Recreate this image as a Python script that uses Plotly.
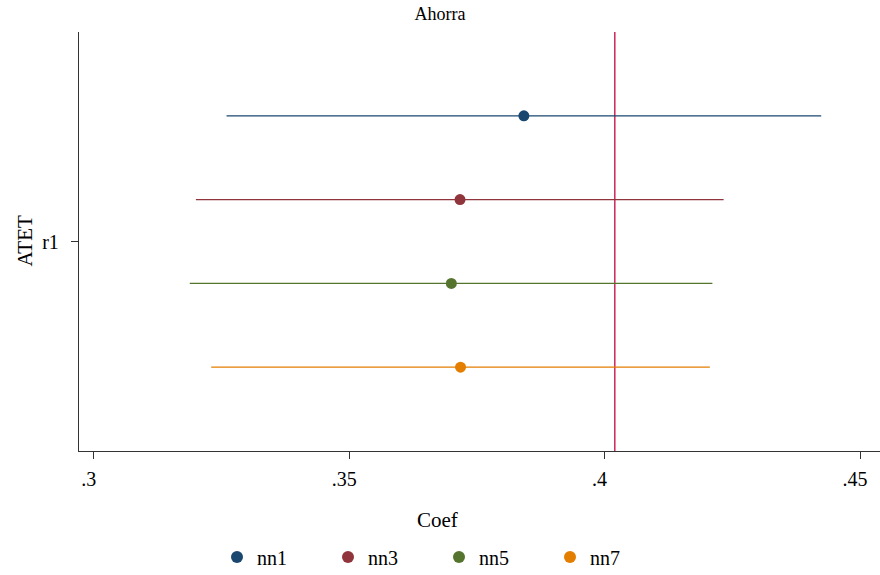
import plotly.graph_objects as go

models = ["nn1", "nn3", "nn5", "nn7"]
coef = [0.3842, 0.3717, 0.3700, 0.3718]
ci_lo = [0.3260, 0.3200, 0.3188, 0.3230]
ci_hi = [0.4424, 0.4233, 0.4211, 0.4206]
colors = ["#1a476f", "#90353b", "#55752f", "#e37e00"]
ref_value = 0.4020
x_tickvals = [0.30, 0.35, 0.40, 0.45]
x_ticktext = [".3", ".35", ".4", ".45"]
y_label = "r1"

FONT = "Liberation Serif, Times New Roman, serif"

# plot-area geometry (pixels)
L, R, T, B = 79, 0, 32, 124
PW, PH = 880 - L - R, 575 - T - B

fig = go.Figure()
n = len(models)
for i, m in enumerate(models):
    ypos = (n - 1) / 2 - i
    fig.add_trace(go.Scatter(
        x=[coef[i]], y=[ypos], mode="markers", name=m,
        marker=dict(color=colors[i], size=11, line=dict(width=0)),
        error_x=dict(type="data", symmetric=False,
                     array=[ci_hi[i] - coef[i]], arrayminus=[coef[i] - ci_lo[i]],
                     width=0, thickness=1.2, color=colors[i]),
    ))

fig.add_vline(x=ref_value, line=dict(color="#c8184a", width=1.4), layer="below")

fig.update_layout(
    width=880, height=575,
    margin=dict(l=L, r=R, t=T, b=B, autoexpand=False),
    paper_bgcolor="white", plot_bgcolor="white",
    font=dict(family=FONT, size=19, color="black"),
    title=dict(text="Ahorra", x=0.5, xref="container", xanchor="center",
               y=1, yref="container", yanchor="top", pad=dict(t=7),
               font=dict(family=FONT, size=18, color="black")),
    showlegend=True,
    legend=dict(orientation="h", x=(217 - L) / PW, xanchor="left",
                y=-(557 - (575 - B)) / PH, yanchor="middle",
                entrywidth=66, entrywidthmode="pixels",
                font=dict(family=FONT, size=20, color="black"),
                itemsizing="constant", traceorder="normal"),
    xaxis=dict(range=[0.29712, 0.45391], tickvals=x_tickvals, ticktext=x_ticktext,
               showgrid=False, zeroline=False, showline=True, linecolor="#333",
               linewidth=1.3, ticks="outside", ticklen=7, tickcolor="#333",
               automargin=False, ticklabelstandoff=3, ticklabelshift=-5,
               tickfont=dict(family=FONT, size=20, color="black")),
    yaxis=dict(range=[-2.5, 2.5], tickvals=[0], ticktext=[y_label],
               showgrid=False, zeroline=False, showline=True, linecolor="#333",
               linewidth=1.3, ticks="outside", ticklen=7, tickcolor="#333",
               automargin=False, ticklabelstandoff=8,
               tickfont=dict(family=FONT, size=20, color="black")),
    annotations=[
        dict(text="Coef", xref="paper", yref="paper", x=(437 - L) / PW,
             y=-(520 - (575 - B)) / PH,
             xanchor="center", yanchor="middle", showarrow=False,
             font=dict(family=FONT, size=21, color="black")),
        dict(text="ATET", xref="paper", yref="paper", x=(24 - L) / PW, y=0.5,
             xanchor="center", yanchor="middle", textangle=-90, showarrow=False,
             font=dict(family=FONT, size=21, color="black")),
    ],
)

fig.write_html("out.html", config={"displayModeBar": False},
               post_script="document.body.style.margin='0px';document.body.style.padding='0px';")
